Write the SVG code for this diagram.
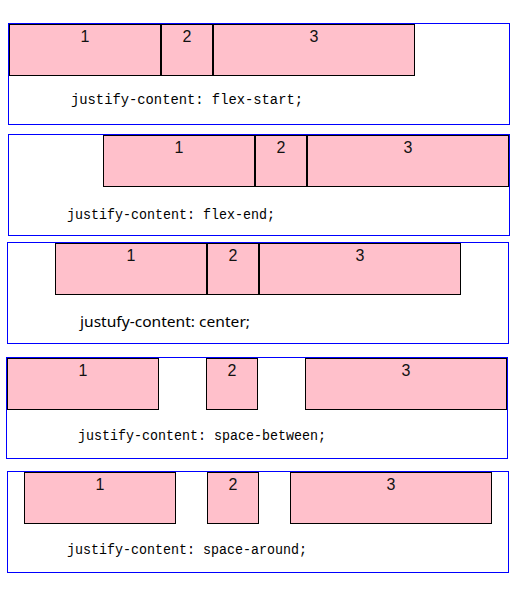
<svg xmlns="http://www.w3.org/2000/svg" width="520" height="591" viewBox="0 0 520 591">
<style>
.panel{fill:#fff;stroke:#0000ff;stroke-width:1}
.box{fill:#ffc0cb;stroke:#000;stroke-width:1}
.num{font-family:"Liberation Sans","Noto Sans",sans-serif;font-size:16px;fill:#111;text-anchor:middle}
.mono{font-family:"Liberation Mono","DejaVu Sans Mono",monospace;font-size:14px;fill:#000}
.sans{font-family:"Noto Sans","Liberation Sans",sans-serif;font-size:15px;fill:#000}
</style>
<rect width="520" height="591" fill="#fff"/>
<g id="panel-flex-start">
<rect class="panel" x="8.5" y="23.5" width="501" height="101"/>
<g id="p1-box1"><rect class="box" x="9.5" y="24.5" width="151" height="51"/><text class="num" x="85" y="42">1</text></g>
<g id="p1-box2"><rect class="box" x="161.5" y="24.5" width="51" height="51"/><text class="num" x="187" y="42">2</text></g>
<g id="p1-box3"><rect class="box" x="213.5" y="24.5" width="201" height="51"/><text class="num" x="314" y="42">3</text></g>
<text class="mono" x="71" y="104" textLength="232" lengthAdjust="spacingAndGlyphs">justify-content: flex-start;</text>
</g>
<g id="panel-flex-end">
<rect class="panel" x="8.5" y="134.5" width="501" height="101"/>
<g id="p2-box1"><rect class="box" x="103.5" y="135.5" width="151" height="51"/><text class="num" x="179" y="153">1</text></g>
<g id="p2-box2"><rect class="box" x="255.5" y="135.5" width="51" height="51"/><text class="num" x="281" y="153">2</text></g>
<g id="p2-box3"><rect class="box" x="307.5" y="135.5" width="201" height="51"/><text class="num" x="408" y="153">3</text></g>
<text class="mono" x="67" y="219" textLength="208" lengthAdjust="spacingAndGlyphs">justify-content: flex-end;</text>
</g>
<g id="panel-center">
<rect class="panel" x="7.5" y="242.5" width="501" height="101"/>
<g id="p3-box1"><rect class="box" x="55.5" y="243.5" width="151" height="51"/><text class="num" x="131" y="261">1</text></g>
<g id="p3-box2"><rect class="box" x="207.5" y="243.5" width="51" height="51"/><text class="num" x="233" y="261">2</text></g>
<g id="p3-box3"><rect class="box" x="259.5" y="243.5" width="201" height="51"/><text class="num" x="360" y="261">3</text></g>
<text class="sans" x="80" y="327" textLength="170" lengthAdjust="spacingAndGlyphs">justufy-content: center;</text>
</g>
<g id="panel-space-between">
<rect class="panel" x="6.5" y="357.5" width="501" height="101"/>
<g id="p4-box1"><rect class="box" x="7.5" y="358.5" width="151" height="51"/><text class="num" x="83" y="376">1</text></g>
<g id="p4-box2"><rect class="box" x="206.5" y="358.5" width="51" height="51"/><text class="num" x="232" y="376">2</text></g>
<g id="p4-box3"><rect class="box" x="305.5" y="358.5" width="201" height="51"/><text class="num" x="406" y="376">3</text></g>
<text class="mono" x="78" y="440" textLength="248" lengthAdjust="spacingAndGlyphs">justify-content: space-between;</text>
</g>
<g id="panel-space-around">
<rect class="panel" x="7.5" y="471.5" width="501" height="101"/>
<g id="p5-box1"><rect class="box" x="24.5" y="472.5" width="151" height="51"/><text class="num" x="100" y="490">1</text></g>
<g id="p5-box2"><rect class="box" x="207.5" y="472.5" width="51" height="51"/><text class="num" x="233" y="490">2</text></g>
<g id="p5-box3"><rect class="box" x="290.5" y="472.5" width="201" height="51"/><text class="num" x="391" y="490">3</text></g>
<text class="mono" x="67" y="554" textLength="240" lengthAdjust="spacingAndGlyphs">justify-content: space-around;</text>
</g>
<g id="connectors"></g>
</svg>
